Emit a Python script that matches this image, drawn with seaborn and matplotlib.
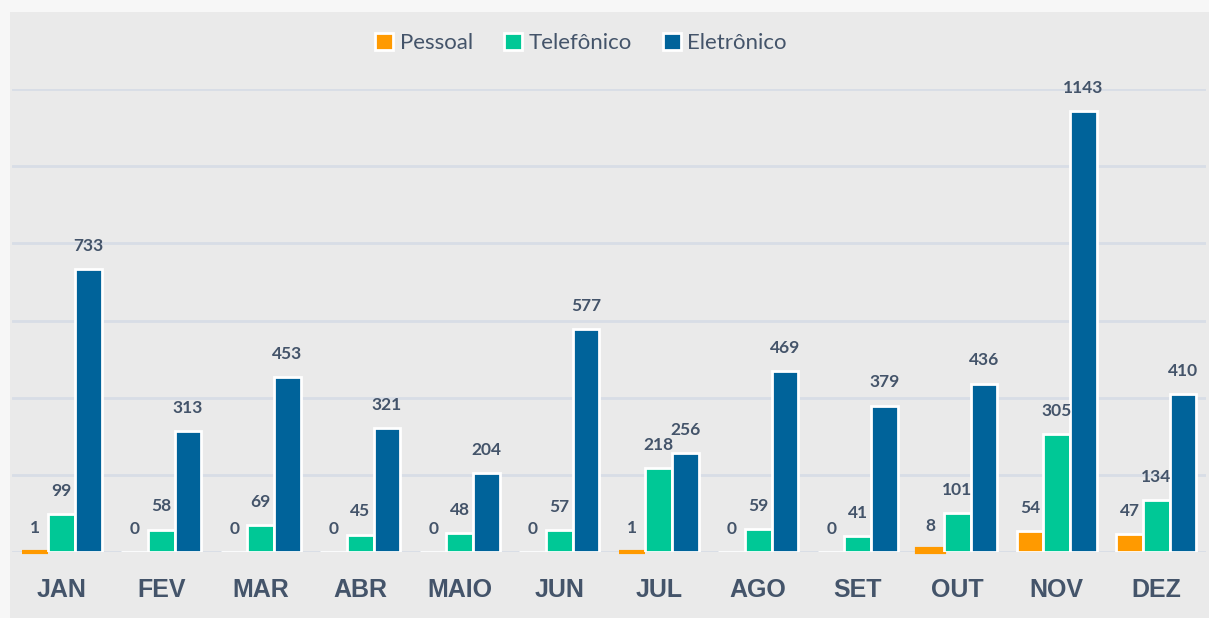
import matplotlib
matplotlib.use("Agg")
import matplotlib.pyplot as plt
import seaborn as sns
import pandas as pd
from matplotlib.patches import Rectangle

meses = ['JAN', 'FEV', 'MAR', 'ABR', 'MAIO', 'JUN', 'JUL', 'AGO', 'SET', 'OUT', 'NOV', 'DEZ']
pessoal = [1, 0, 0, 0, 0, 0, 1, 0, 0, 8, 54, 47]
telefonico = [99, 58, 69, 45, 48, 57, 218, 59, 41, 101, 305, 134]
eletronico = [733, 313, 453, 321, 204, 577, 256, 469, 379, 436, 1143, 410]
series = ['Pessoal', 'Telefônico', 'Eletrônico']
cores = ['#ff9a00', '#00c896', '#00639a']

df = pd.DataFrame({
    'mes': meses * 3,
    'tipo': [series[0]] * 12 + [series[1]] * 12 + [series[2]] * 12,
    'valor': pessoal + telefonico + eletronico,
})

sns.set_style("white")
plt.rcParams['font.family'] = ['Lato', 'DejaVu Sans']
texto = '#44546a'

fig = plt.figure(figsize=(12.09, 6.18), dpi=100)
fig.patch.set_facecolor('#f7f7f7')
# fundo tipo marmore (cor lisa)
fig.add_artist(Rectangle((10 / 1209, 0), 1, 606 / 618, transform=fig.transFigure,
                         facecolor='#eaeaea', edgecolor='none', zorder=0))

ax = fig.add_axes([12 / 1209, 66 / 618, 1194 / 1209, 463 / 618])
ax.set_facecolor('none')

sns.barplot(data=df, x='mes', y='valor', hue='tipo', palette=cores, ax=ax,
            width=0.8, edgecolor='white', linewidth=2, saturation=1, zorder=3)

for cont, cor in zip(ax.containers, cores):
    # barras muito baixas ficam visiveis como uma linha colorida
    for barra in cont:
        if 0 < barra.get_height() < 10:
            barra.set_edgecolor(cor)
            barra.set_linewidth(3)
            barra.set_clip_on(False)
    ax.bar_label(cont, padding=11, fontsize=12.5, fontweight='bold', color=texto)

ax.set_ylim(0, 1200)
ax.set_xlim(-0.5, 11.5)
ax.set_yticks(range(0, 1201, 200))
ax.set_yticklabels([])
ax.yaxis.grid(True, color='#d8dde6', linewidth=2, zorder=0)
ax.tick_params(axis='both', length=0)
ax.set_xlabel('')
ax.set_ylabel('')
for lbl in ax.get_xticklabels():
    lbl.set_fontfamily('Liberation Sans')
    lbl.set_fontweight('bold')
    lbl.set_fontsize(18)
    lbl.set_color(texto)
ax.tick_params(axis='x', pad=19)
for s in ax.spines.values():
    s.set_visible(False)

handles, labels = ax.get_legend_handles_labels()
ax.legend_.remove()
fig.legend(handles, labels, loc='center', bbox_to_anchor=(581 / 1209, 1 - 43 / 618),
           ncol=3, frameon=False, fontsize=16, handlelength=0.8, handleheight=0.8,
           handletextpad=0.3, columnspacing=1.4, labelcolor=texto)

fig.savefig('out.png', dpi=100, facecolor=fig.get_facecolor())
